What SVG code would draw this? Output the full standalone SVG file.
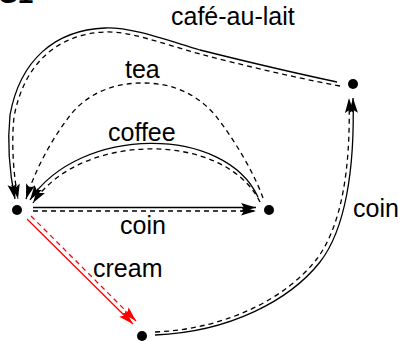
<svg xmlns="http://www.w3.org/2000/svg" width="401" height="341" viewBox="0 0 401 341">
<style>
.lbl{font-family:"Liberation Sans",Arial,sans-serif;font-size:25px;fill:#000}
.s{fill:none;stroke:#000;stroke-width:1.3}
.d{fill:none;stroke:#000;stroke-width:1.3;stroke-dasharray:5,4}
.sr{fill:none;stroke:#f00;stroke-width:1.3}
.dr{fill:none;stroke:#f00;stroke-width:1.3;stroke-dasharray:5,4}
.node{fill:#000}
</style>
<defs>
<marker id="ah" markerUnits="userSpaceOnUse" markerWidth="18" markerHeight="12" refX="15" refY="4.5" orient="auto">
<path d="M0,0 L15,4.5 L0,9 L3,4.5 z" fill="#000"/>
</marker>
<marker id="ahr" markerUnits="userSpaceOnUse" markerWidth="18" markerHeight="12" refX="15" refY="4.5" orient="auto">
<path d="M0,0 L15,4.5 L0,9 L3,4.5 z" fill="#f00"/>
</marker>
</defs>
<text x="-1" y="3" style="font-family:'Liberation Sans',Arial,sans-serif;font-size:28px;font-weight:bold">S1</text>
<g id="connectors">
<g id="e-cafe">
<path class="s" marker-end="url(#ah)" d="M337,82 C290,72 240,60 200,50 C160,38 130,27 105,28 C55,30 20,60 10,115 C7,145 10,175 15,199"/>
<path class="d" marker-end="url(#ah)" d="M340,86 C292,77 242,65 200,54 C160,43 130,31 105,32 C58,34 24,63 14,117 C11,147 14,177 18,199"/>
</g>
<g id="e-tea">
<path class="d" marker-end="url(#ah)" d="M263,198 C255,175 235,140 215,115 C195,92 170,83 143,83 C115,83 90,92 72,113 C52,138 35,170 26,199"/>
</g>
<g id="e-coffee">
<path class="s" marker-end="url(#ah)" d="M258,197 C225,125 80,125 30,200"/>
<path class="d" marker-end="url(#ah)" d="M260,202 C225,131 80,131 33,203"/>
</g>
<g id="e-coin1">
<path class="s" marker-end="url(#ah)" d="M33,207.5 L256,207.5"/>
<path class="d" marker-end="url(#ah)" d="M33,211 L256,211"/>
</g>
<g id="e-cream">
<path class="sr" marker-end="url(#ahr)" d="M27,219 L133,324"/>
<path class="dr" marker-end="url(#ahr)" d="M31,216 L136,321"/>
</g>
<g id="e-coin2">
<path class="s" marker-end="url(#ah)" d="M155,335 C230,332 290,300 320,262 C345,230 355,170 353,98"/>
<path class="d" marker-end="url(#ah)" d="M155,332 C228,329 287,297 316,260 C341,228 351,170 349,98"/>
</g>
</g>
<g id="labels">
<text class="lbl" x="171" y="25">café-au-lait</text>
<text class="lbl" x="125" y="78">tea</text>
<text class="lbl" x="108" y="141">coffee</text>
<text class="lbl" x="120" y="234">coin</text>
<text class="lbl" x="93" y="277">cream</text>
<text class="lbl" x="353" y="217">coin</text>
</g>
<g id="n-a"><circle class="node" cx="17" cy="210" r="5"/></g>
<g id="n-b"><circle class="node" cx="269" cy="210" r="5"/></g>
<g id="n-c"><circle class="node" cx="353" cy="84" r="5"/></g>
<g id="n-d"><circle class="node" cx="142" cy="336" r="5"/></g>
</svg>
